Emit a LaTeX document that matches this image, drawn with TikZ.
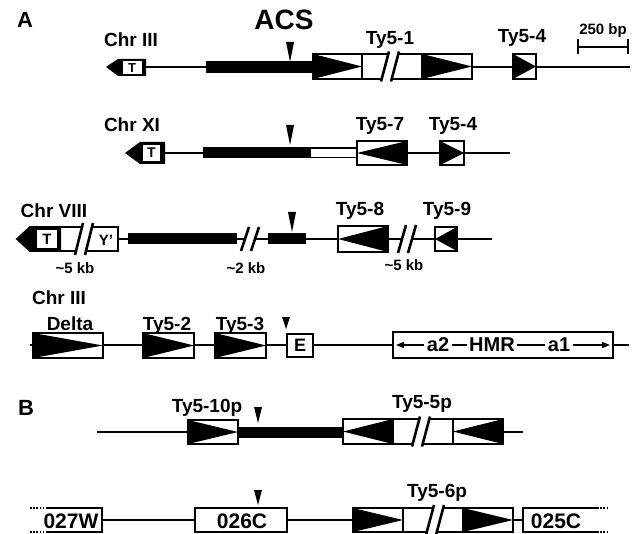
\documentclass[tikz,border=0pt]{standalone}
\usepackage{fontspec}
\setmainfont{Liberation Sans}
\usetikzlibrary{arrows.meta}
\tikzset{
  thinl/.style={line width=1.6pt},
  boxline/.style={line width=1.8pt},
  lab/.style={font=\bfseries\fontsize{19}{21}\selectfont, inner sep=0pt, anchor=base},
  smalllab/.style={font=\bfseries\fontsize{15}{17}\selectfont, inner sep=0pt, anchor=base},
  boxtxt/.style={font=\bfseries\fontsize{20}{22}\selectfont, inner sep=0pt, anchor=center},
  dotl/.style={line width=1.6pt, dash pattern=on 1.6pt off 1.6pt},
}
\newcommand\LTRr[4]{%
  \filldraw[boxline, fill=white] (#1,#3) rectangle (#2,#4);
  \fill (#1,#3) -- (#2,{(#3+#4)/2}) -- (#1,#4) -- cycle;
  \draw[boxline] (#1,#3) rectangle (#2,#4);}
\newcommand\LTRl[4]{%
  \filldraw[boxline, fill=white] (#1,#3) rectangle (#2,#4);
  \fill (#2,#3) -- (#1,{(#3+#4)/2}) -- (#2,#4) -- cycle;
  \draw[boxline] (#1,#3) rectangle (#2,#4);}
\newcommand\Brk[3]{%
  \fill[white] ({#1-5-4},{#2+#3}) -- ({#1-5+4},{#2-#3}) -- ({#1+5+4},{#2-#3}) -- ({#1+5-4},{#2+#3}) -- cycle;
  \draw[line width=2.6pt] ({#1-5-4},{#2+#3}) -- ({#1-5+4},{#2-#3});
  \draw[line width=2.6pt] ({#1+5-4},{#2+#3}) -- ({#1+5+4},{#2-#3});}
\newcommand\Pin[3]{%
  \fill ({#1-4},#2) -- ({#1+4},#2) -- (#1,#3) -- cycle;}
\newcommand\tld{\char126\relax}
\begin{document}
\begin{tikzpicture}[x=1pt,y=-1pt]
\useasboundingbox (0,0) rectangle (639,534);
% ---------- Panel A labels
\node[font=\bfseries\fontsize{22}{24}\selectfont, inner sep=0pt, anchor=base] (labA) at (25,28) {A};
\node[font=\bfseries\fontsize{28}{30}\selectfont, inner sep=0pt, anchor=base] (acs) at (284,30) {ACS};
% ---------- Row 1: Chr III
\draw[thinl] (146,67) -- (630,67);
\fill (206,61.5) rectangle (313,73);
\fill (106,67) -- (118,59) -- (146,59) -- (146,76) -- (118,76) -- cycle;
\node[fill=white, minimum width=19pt, minimum height=13pt, inner sep=0pt, font=\bfseries\fontsize{13}{14}\selectfont] (t1) at (132,68) {T};
\Pin{290}{42}{62}
\LTRr{313}{362}{54}{79}
\filldraw[boxline, fill=white] (362,54) rectangle (422,79);
\LTRr{422}{472}{54}{79}
\Brk{390}{66.5}{15}
\LTRr{513}{536}{54}{79}
\node[lab] (chr1) at (131,47) {Chr III};
\node[lab] (ty51) at (390,45) {Ty5-1};
\node[lab] (ty54a) at (522,43) {Ty5-4};
\node[smalllab] (bp) at (603,35) {250 bp};
\draw[line width=1.8pt] (578,47) -- (628,47);
\draw[line width=1.8pt] (578,39) -- (578,54);
\draw[line width=1.8pt] (628,39) -- (628,54);
% ---------- Row 2: Chr XI
\draw[thinl] (165,153) -- (510,153);
\fill (203,147.5) rectangle (310,158.5);
\filldraw[line width=1.4pt, fill=white] (310,148.2) rectangle (357,157.8);
\fill (125,153) -- (140,142) -- (165,142) -- (165,164) -- (140,164) -- cycle;
\node[fill=white, minimum width=17pt, minimum height=16pt, inner sep=0pt, font=\bfseries\fontsize{14}{15}\selectfont] (t2) at (151.5,153) {T};
\Pin{290}{125}{145}
\LTRl{357}{407}{141}{165}
\LTRr{440}{464}{141}{165}
\node[lab] (chr2) at (132,132) {Chr XI};
\node[lab] (ty57) at (380,131) {Ty5-7};
\node[lab] (ty54b) at (453,131) {Ty5-4};
% ---------- Row 3: Chr VIII
\draw[thinl] (118,239) -- (492,239);
\filldraw[boxline, fill=white] (17,239) -- (30,227) -- (118,227) -- (118,251) -- (30,251) -- cycle;
\fill (17,239) -- (30,227) -- (61,227) -- (61,251) -- (30,251) -- cycle;
\node[fill=white, minimum width=20pt, minimum height=18pt, inner sep=0pt, font=\bfseries\fontsize{15}{16}\selectfont] (t3) at (47,239) {T};
\Brk{84}{239}{16}
\node[font=\bfseries\fontsize{15}{16}\selectfont, inner sep=0pt] (yp) at (106,240) {Y'};
\fill (128,233.5) rectangle (237,244.5);
\fill (268,233.5) rectangle (306,244.5);
\Brk{250}{239}{12}
\Pin{292}{212}{232}
\LTRl{338}{388}{226}{252}
\Brk{407}{239}{14}
\LTRl{435}{457}{227}{251}
\node[lab] (chr3) at (54,218) {Chr VIII};
\node[lab] (ty58) at (360,216) {Ty5-8};
\node[lab] (ty59) at (447,216) {Ty5-9};
\node[smalllab] (kb1) at (75,273) {\tld5 kb};
\node[smalllab] (kb2) at (246,273) {\tld2 kb};
\node[smalllab] (kb3) at (404,271) {\tld5 kb};
% ---------- Row 4: Chr III
\draw[thinl] (30,345) -- (629,345);
\LTRr{33}{103}{333}{358}
\LTRr{143}{194}{333}{358}
\LTRr{215}{266}{333}{358}
\node[draw, boxline, fill=white, minimum width=26pt, minimum height=23pt, inner sep=0pt, font=\bfseries\fontsize{18}{20}\selectfont] (E) at (300,345.5) {E};
\Pin{286}{317}{329}
\filldraw[boxline, fill=white] (393,332) rectangle (613,358);
\node[boxtxt, inner sep=2.5pt] (a2) at (438,345) {a2};
\node[boxtxt, inner sep=2.5pt] (hmr) at (492,345) {HMR};
\node[boxtxt, inner sep=2.5pt] (a1) at (559,345) {a1};
\coordinate (hl) at (396,345);
\coordinate (hr) at (610,345);
\draw[line width=1.5pt, -{Triangle[length=8pt,width=6pt]}] (a2.west) -- (hl);
\draw[line width=1.5pt] (a2.east) -- (hmr.west);
\draw[line width=1.5pt] (hmr.east) -- (a1.west);
\draw[line width=1.5pt, -{Triangle[length=8pt,width=6pt]}] (a1.east) -- (hr);
\node[lab] (chr4) at (59,305) {Chr III};
\node[lab] (delta) at (70,330) {Delta};
\node[lab] (ty52) at (167,330) {Ty5-2};
\node[lab] (ty53) at (240,330) {Ty5-3};
% ---------- Panel B
\node[font=\bfseries\fontsize{22}{24}\selectfont, inner sep=0pt, anchor=base] (labB) at (26,415) {B};
% Row B1
\draw[thinl] (97,432) -- (523,432);
\LTRr{188}{238}{420}{444}
\fill (238,426.5) rectangle (343,437.5);
\Pin{258}{407}{423}
\LTRl{343}{393}{419}{444}
\filldraw[boxline, fill=white] (393,419) rectangle (453,444);
\LTRl{453}{503}{419}{444}
\Brk{421}{431.5}{15}
\node[lab] (ty510) at (207,412) {Ty5-10p};
\node[lab] (ty55) at (422,408) {Ty5-5p};
% Row B2
\draw[thinl] (102,520) -- (523,520);
\draw[dotl] (30,508) -- (46,508);
\draw[dotl] (30,532) -- (46,532);
\draw[boxline] (46,508) -- (102,508) -- (102,532) -- (46,532);
\node[boxtxt, font=\bfseries\fontsize{21}{23}\selectfont] (w27) at (71,521) {027W};
\filldraw[boxline, fill=white] (195,508) rectangle (287,532);
\node[boxtxt, font=\bfseries\fontsize{21}{23}\selectfont] (c26) at (242,521) {026C};
\Pin{258}{490}{505}
\LTRr{353}{403}{508}{532}
\filldraw[boxline, fill=white] (403,508) rectangle (463,532);
\LTRr{463}{513}{508}{532}
\Brk{435}{520}{15}
\draw[boxline] (597,508) -- (523,508) -- (523,532) -- (597,532);
\draw[dotl] (597,508) -- (609,508);
\draw[dotl] (597,532) -- (609,532);
\node[boxtxt, font=\bfseries\fontsize{21}{23}\selectfont] (c25) at (556,521) {025C};
\node[lab] (ty56) at (437,497) {Ty5-6p};
\end{tikzpicture}
\end{document}
